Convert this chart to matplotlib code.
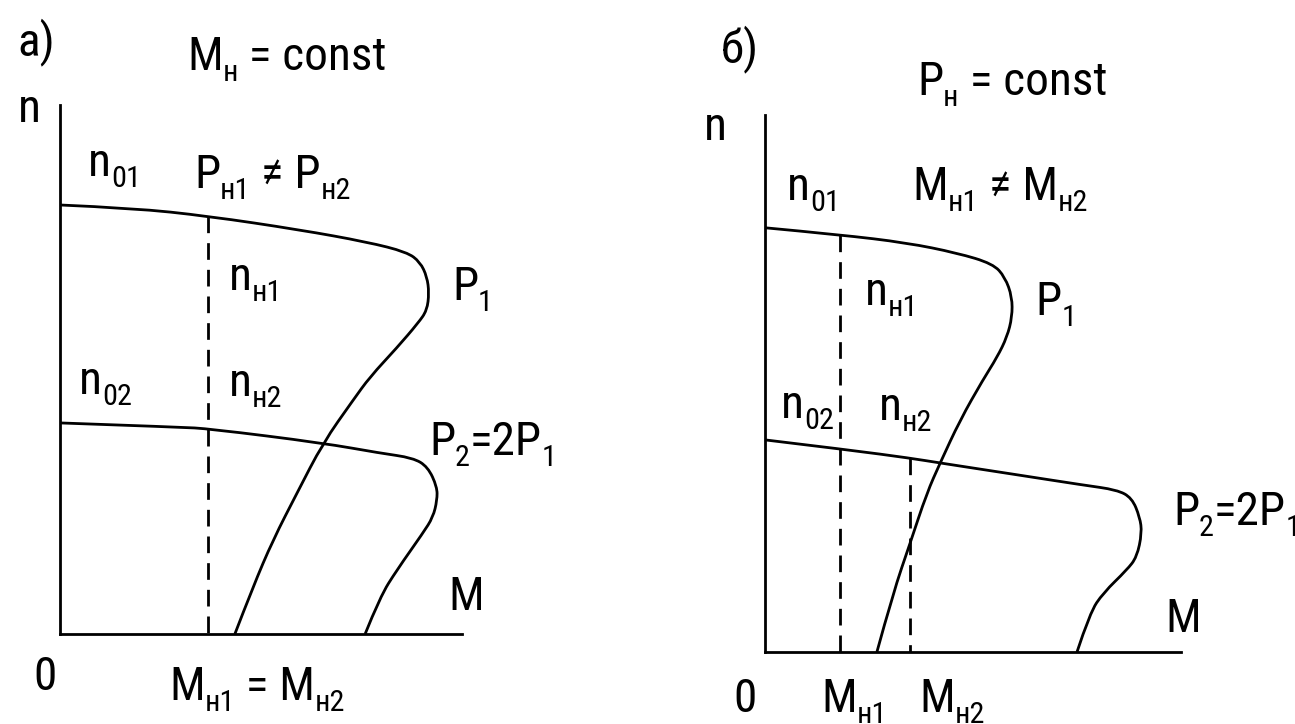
import numpy as np
import matplotlib
matplotlib.use("Agg")
import matplotlib.pyplot as plt
from matplotlib import font_manager
from matplotlib.font_manager import FontProperties
from matplotlib.path import Path
from matplotlib.patches import PathPatch

W, H = 1295, 724

# --- a) M_nom = const : speed n vs torque M, both in % of axis length
a_M_p1 = [0, 18.2, 36.8, 59.7, 76.4, 86.3, 89.6, 91.3, 91.8, 91.3, 89.1, 83.8,
          77.1, 72.9, 65.4, 59.0, 53.0, 48.0, 43.5]
a_n_p1 = [81.1, 80.5, 79.0, 76.4, 74.1, 72.2, 70.3, 67.5, 64.5, 61.2, 58.8, 54.1,
          48.6, 44.2, 36.1, 26.7, 17.8, 8.9, 0]
a_M_p2 = [0, 29.9, 37.1, 65.4, 79.6, 87.8, 91.5, 93.8, 93.8, 92.8, 90.3, 83.8,
          79.6, 75.9]
a_n_p2 = [39.9, 39.1, 38.8, 36.1, 34.2, 33.3, 31.6, 27.8, 25.3, 22.1, 19.1, 12.1,
          7.0, 0]
a_M_nom = 36.8

# --- b) P_nom = const
b_M_p1 = [0, 18.0, 34.1, 46.2, 54.8, 57.7, 59.4, 59.4, 58.2, 55.8, 52.4, 46.9,
          42.1, 38.9, 34.9, 30.8, 26.9]
b_n_p1 = [79.0, 77.7, 76.2, 74.3, 72.3, 69.8, 66.1, 62.4, 58.7, 54.9, 50.7, 43.2,
          35.2, 29.6, 20.3, 11.0, 0]
b_M_p2 = [0, 20.4, 34.9, 42.1, 60.6, 76.4, 84.6, 88.2, 90.1, 90.6, 89.4, 87.0,
          81.3, 78.1, 75.0]
b_n_p2 = [39.5, 37.6, 36.1, 35.2, 33.0, 31.1, 30.2, 28.7, 25.1, 22.2, 17.7, 15.3,
          11.0, 7.3, 0]
b_M_nom1 = 18.0
b_M_nom2 = 34.9

LW = 2.0


def pick_font():
    fonts = font_manager.fontManager.ttflist
    for want in ["Liberation Sans Narrow", "Arial Narrow", "Roboto Condensed"]:
        for f in fonts:
            if f.name == want and f.weight in (400, "normal", "regular") and f.style == "normal":
                return FontProperties(fname=f.fname), 34
    for f in fonts:
        if f.name in ("DejaVu Sans", "Roboto", "Noto Sans", "Open Sans") \
                and "ondensed" in str(f.stretch) + f.fname and f.style == "normal" \
                and f.weight in (400, "normal", "regular"):
            return FontProperties(fname=f.fname), 32
    return FontProperties(family="Liberation Sans"), 30


FP, FS = pick_font()


def make_axes(x0, y0, x1, y1):
    ax = fig.add_axes([x0 / W, 1 - y0 / H, (x1 - x0) / W, (y0 - y1) / H])
    ax.set_xlim(0, 100)
    ax.set_ylim(0, 100)
    ax.set_xticks([])
    ax.set_yticks([])
    for s in ["top", "right"]:
        ax.spines[s].set_visible(False)
    for s in ["left", "bottom"]:
        ax.spines[s].set_linewidth(LW)
    ax.patch.set_visible(False)
    return ax


def curve(ax, Ms, ns):
    # quadratic bezier through the midpoints, points act as controls
    pts = np.column_stack([Ms, ns])
    verts = [pts[0]]
    codes = [Path.MOVETO]
    for i in range(1, len(pts) - 1):
        end = pts[i + 1] if i == len(pts) - 2 else (pts[i] + pts[i + 1]) / 2
        verts += [pts[i], end]
        codes += [Path.CURVE3, Path.CURVE3]
    ax.add_patch(PathPatch(Path(verts, codes), fill=False, lw=LW,
                           edgecolor="black", capstyle="butt", clip_on=False))


def upper_n(M, Ms, ns):
    # speed on the working branch, before the knee
    k = int(np.argmax(Ms))
    return np.interp(M, np.array(Ms[:k + 1]), np.array(ns[:k + 1]))


def vdash(ax, M, n_top):
    ax.plot([M, M], [n_top, 0], color="black", lw=LW, dashes=(6.0, 3.6),
            solid_capstyle="butt", clip_on=False)


def label(x, y, parts):
    # parts: list of (text, is_subscript); x, y = left and baseline in pixels
    r = fig.canvas.get_renderer()
    for s, sub in parts:
        fs = FS * 0.64 if sub else FS
        yy = y + (0.24 * FS * 100 / 72 if sub else 0)
        t = fig.text(x / W, 1 - yy / H, s, fontproperties=FP, fontsize=fs,
                     va="baseline", ha="left")
        x += t.get_window_extent(r).width


fig = plt.figure(figsize=(W / 100, H / 100), dpi=100)

ax_a = make_axes(60, 634, 462, 105)
curve(ax_a, a_M_p1, a_n_p1)
curve(ax_a, a_M_p2, a_n_p2)
vdash(ax_a, a_M_nom, upper_n(a_M_nom, a_M_p1, a_n_p1))

ax_b = make_axes(765, 652, 1181, 115)
curve(ax_b, b_M_p1, b_n_p1)
curve(ax_b, b_M_p2, b_n_p2)
vdash(ax_b, b_M_nom1, upper_n(b_M_nom1, b_M_p1, b_n_p1))
vdash(ax_b, b_M_nom2, upper_n(b_M_nom2, b_M_p2, b_n_p2))

# labels, panel a
label(17, 55, [("a)", 0)])
label(187, 70, [("M", 0), ("н", 1), (" = const", 0)])
label(18, 122, [("n", 0)])
label(88, 176, [("n", 0), ("01", 1)])
label(194, 188, [("P", 0), ("н1", 1), (" ≠ P", 0), ("н2", 1)])
label(229, 290, [("n", 0), ("н1", 1)])
label(452, 300, [("P", 0), ("1", 1)])
label(79, 394, [("n", 0), ("02", 1)])
label(229, 396, [("n", 0), ("н2", 1)])
label(429, 455, [("P", 0), ("2", 1), ("=2P", 0), ("1", 1)])
label(448, 610, [("M", 0)])
label(33, 690, [("0", 0)])
label(169, 700, [("M", 0), ("н1", 1), (" = M", 0), ("н2", 1)])

# labels, panel b
label(721, 62, [("б)", 0)])
label(917, 95, [("P", 0), ("н", 1), (" = const", 0)])
label(704, 140, [("n", 0)])
label(787, 200, [("n", 0), ("01", 1)])
label(912, 200, [("M", 0), ("н1", 1), (" ≠ M", 0), ("н2", 1)])
label(865, 305, [("n", 0), ("н1", 1)])
label(1035, 315, [("P", 0), ("1", 1)])
label(781, 418, [("n", 0), ("02", 1)])
label(879, 420, [("n", 0), ("н2", 1)])
label(1173, 525, [("P", 0), ("2", 1), ("=2P", 0), ("1", 1)])
label(1165, 632, [("M", 0)])
label(733, 712, [("0", 0)])
label(821, 712, [("M", 0), ("н1", 1)])
label(919, 712, [("M", 0), ("н2", 1)])

fig.savefig("out.png", dpi=100, facecolor="white")
